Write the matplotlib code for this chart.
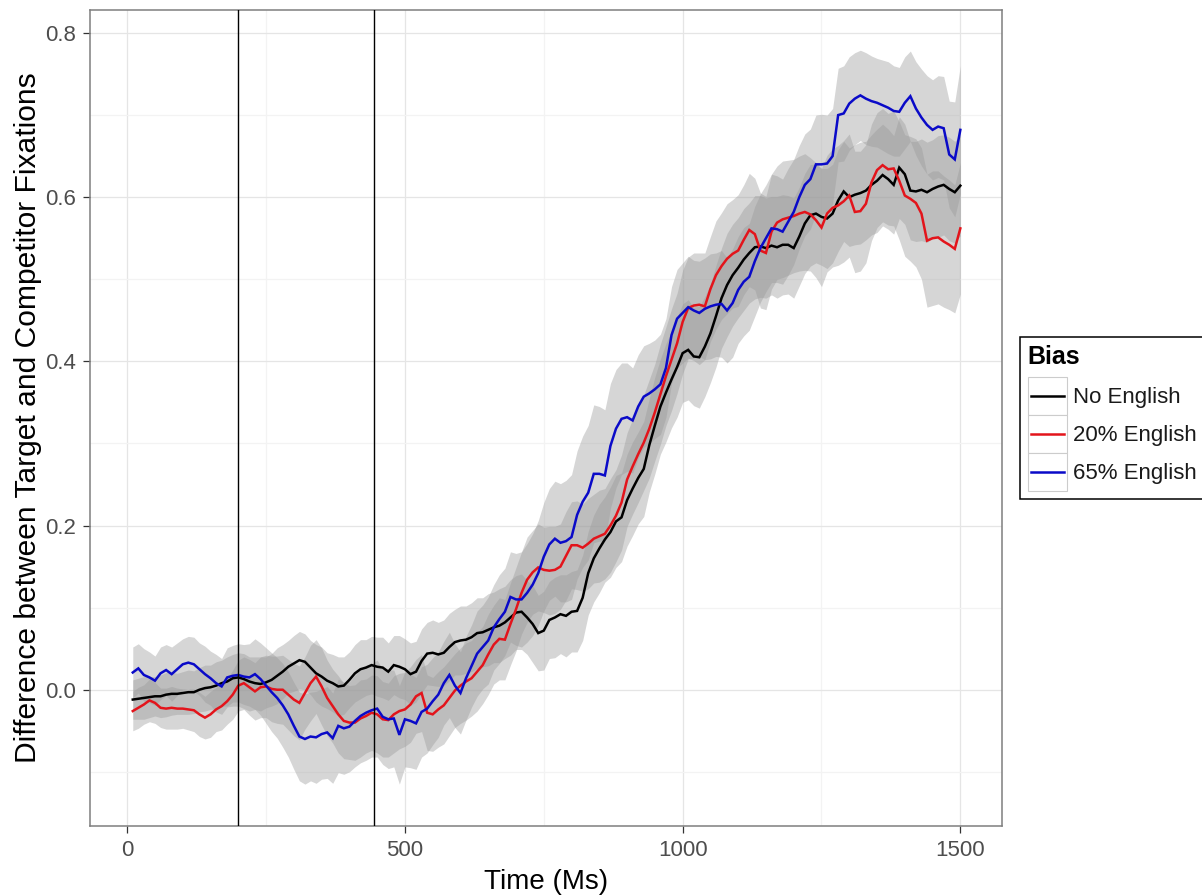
import matplotlib
matplotlib.use("Agg")
import matplotlib.pyplot as plt
from matplotlib.lines import Line2D
from matplotlib.patches import Rectangle
from matplotlib.legend_handler import HandlerBase
from matplotlib.ticker import MultipleLocator

plt.rcParams['font.family'] = ['Liberation Sans', 'DejaVu Sans']

# Sampling times (ms), one value every 10 ms
time_ms = list(range(10, 1510, 10))

# Mean difference between target and competitor fixations, per bias group
no_english = [
    -0.012, -0.011, -0.010, -0.009, -0.008, -0.008, -0.006, -0.005, -0.005, -0.004,
    -0.003, -0.003, 0.000, 0.002, 0.003, 0.005, 0.008, 0.010, 0.014, 0.015,
    0.013, 0.010, 0.008, 0.007, 0.009, 0.012, 0.017, 0.022, 0.028, 0.032,
    0.036, 0.034, 0.027, 0.020, 0.016, 0.011, 0.008, 0.004, 0.005, 0.012,
    0.020, 0.025, 0.027, 0.030, 0.028, 0.027, 0.022, 0.030, 0.028, 0.025,
    0.019, 0.022, 0.035, 0.044, 0.045, 0.043, 0.045, 0.052, 0.058, 0.060,
    0.061, 0.064, 0.069, 0.070, 0.073, 0.076, 0.078, 0.082, 0.088, 0.094,
    0.095, 0.088, 0.080, 0.069, 0.072, 0.085, 0.088, 0.092, 0.090, 0.095,
    0.096, 0.112, 0.142, 0.160, 0.172, 0.183, 0.192, 0.205, 0.210, 0.231,
    0.245, 0.258, 0.269, 0.298, 0.322, 0.345, 0.362, 0.378, 0.393, 0.410,
    0.414, 0.406, 0.405, 0.418, 0.434, 0.455, 0.477, 0.493, 0.505, 0.514,
    0.524, 0.532, 0.539, 0.540, 0.538, 0.541, 0.539, 0.542, 0.542, 0.538,
    0.552, 0.568, 0.578, 0.580, 0.576, 0.574, 0.580, 0.596, 0.607, 0.600,
    0.603, 0.605, 0.608, 0.615, 0.620, 0.627, 0.622, 0.615, 0.636, 0.628,
    0.608, 0.607, 0.609, 0.606, 0.610, 0.613, 0.615, 0.610, 0.606, 0.614,
]
english_20 = [
    -0.026, -0.022, -0.018, -0.013, -0.016, -0.022, -0.023, -0.022, -0.023, -0.023,
    -0.024, -0.025, -0.030, -0.034, -0.030, -0.024, -0.020, -0.014, -0.006, 0.005,
    0.008, 0.003, -0.002, 0.003, 0.004, 0.001, 0.000, 0.000, -0.006, -0.012,
    -0.016, -0.004, 0.008, 0.016, 0.004, -0.010, -0.020, -0.030, -0.038, -0.040,
    -0.040, -0.035, -0.032, -0.028, -0.030, -0.036, -0.037, -0.030, -0.026, -0.024,
    -0.018, -0.008, -0.004, -0.028, -0.030, -0.024, -0.019, -0.010, -0.001, 0.005,
    0.010, 0.014, 0.022, 0.030, 0.043, 0.055, 0.062, 0.061, 0.080, 0.098,
    0.118, 0.134, 0.143, 0.149, 0.146, 0.145, 0.146, 0.150, 0.163, 0.176,
    0.176, 0.173, 0.178, 0.184, 0.187, 0.190, 0.200, 0.212, 0.228, 0.256,
    0.272, 0.287, 0.301, 0.318, 0.338, 0.360, 0.382, 0.402, 0.422, 0.448,
    0.465, 0.468, 0.469, 0.467, 0.488, 0.505, 0.516, 0.525, 0.531, 0.535,
    0.548, 0.560, 0.555, 0.535, 0.532, 0.558, 0.569, 0.573, 0.575, 0.577,
    0.580, 0.582, 0.579, 0.572, 0.563, 0.580, 0.587, 0.590, 0.595, 0.602,
    0.582, 0.583, 0.592, 0.618, 0.633, 0.639, 0.634, 0.635, 0.620, 0.602,
    0.598, 0.593, 0.580, 0.547, 0.550, 0.551, 0.546, 0.542, 0.537, 0.562,
]
english_65 = [
    0.021, 0.026, 0.018, 0.015, 0.011, 0.020, 0.024, 0.019, 0.025, 0.031,
    0.033, 0.031, 0.025, 0.019, 0.014, 0.008, 0.004, 0.015, 0.017, 0.018,
    0.016, 0.015, 0.019, 0.013, 0.005, -0.003, -0.010, -0.019, -0.030, -0.044,
    -0.057, -0.060, -0.057, -0.058, -0.054, -0.052, -0.059, -0.044, -0.047, -0.045,
    -0.038, -0.032, -0.028, -0.025, -0.023, -0.033, -0.036, -0.035, -0.055, -0.036,
    -0.038, -0.041, -0.027, -0.023, -0.014, -0.006, 0.008, 0.018, 0.005, -0.004,
    0.014, 0.029, 0.044, 0.052, 0.060, 0.076, 0.086, 0.095, 0.113, 0.110,
    0.110, 0.118, 0.128, 0.142, 0.162, 0.177, 0.184, 0.179, 0.181, 0.186,
    0.213, 0.229, 0.240, 0.263, 0.263, 0.261, 0.297, 0.318, 0.330, 0.332,
    0.328, 0.345, 0.357, 0.361, 0.366, 0.372, 0.392, 0.432, 0.452, 0.459,
    0.466, 0.462, 0.459, 0.464, 0.467, 0.469, 0.470, 0.462, 0.471, 0.487,
    0.497, 0.503, 0.522, 0.538, 0.550, 0.562, 0.561, 0.558, 0.570, 0.582,
    0.600, 0.615, 0.622, 0.640, 0.640, 0.641, 0.650, 0.700, 0.702, 0.714,
    0.720, 0.724, 0.720, 0.717, 0.715, 0.712, 0.709, 0.705, 0.704, 0.715,
    0.723, 0.708, 0.697, 0.688, 0.682, 0.686, 0.684, 0.652, 0.646, 0.682,
]

# Standard errors used for the shaded bands
no_english_se = [
    0.024, 0.025, 0.026, 0.025, 0.024, 0.026, 0.027, 0.026, 0.025, 0.026,
    0.027, 0.026, 0.027, 0.028, 0.027, 0.029, 0.028, 0.030, 0.029, 0.030,
    0.031, 0.030, 0.032, 0.033, 0.031, 0.032, 0.034, 0.033, 0.032, 0.034,
    0.035, 0.034, 0.033, 0.035, 0.036, 0.034, 0.035, 0.036, 0.035, 0.034,
    0.035, 0.036, 0.034, 0.035, 0.036, 0.037, 0.035, 0.036, 0.038, 0.037,
    0.038, 0.037, 0.039, 0.038, 0.040, 0.039, 0.040, 0.041, 0.040, 0.042,
    0.041, 0.042, 0.043, 0.042, 0.044, 0.043, 0.045, 0.044, 0.046, 0.045,
    0.046, 0.045, 0.047, 0.046, 0.048, 0.047, 0.049, 0.048, 0.050, 0.049,
    0.050, 0.052, 0.051, 0.053, 0.054, 0.052, 0.055, 0.056, 0.054, 0.056,
    0.057, 0.056, 0.058, 0.057, 0.059, 0.058, 0.060, 0.059, 0.061, 0.060,
    0.061, 0.060, 0.062, 0.061, 0.060, 0.062, 0.061, 0.063, 0.062, 0.061,
    0.062, 0.061, 0.063, 0.062, 0.061, 0.060, 0.062, 0.061, 0.060, 0.061,
    0.060, 0.061, 0.062, 0.060, 0.059, 0.061, 0.060, 0.062, 0.061, 0.060,
    0.061, 0.062, 0.060, 0.061, 0.063, 0.062, 0.061, 0.060, 0.062, 0.061,
    0.060, 0.061, 0.062, 0.061, 0.060, 0.062, 0.061, 0.063, 0.062, 0.061,
]
english_20_se = [
    0.024, 0.025, 0.024, 0.026, 0.025, 0.024, 0.025, 0.026, 0.025, 0.024,
    0.025, 0.026, 0.027, 0.026, 0.028, 0.027, 0.029, 0.028, 0.030, 0.031,
    0.032, 0.034, 0.035, 0.037, 0.038, 0.040, 0.041, 0.042, 0.043, 0.044,
    0.045, 0.044, 0.046, 0.045, 0.047, 0.046, 0.045, 0.047, 0.046, 0.045,
    0.046, 0.047, 0.045, 0.046, 0.047, 0.046, 0.045, 0.047, 0.046, 0.045,
    0.046, 0.045, 0.047, 0.046, 0.045, 0.046, 0.047, 0.046, 0.045, 0.046,
    0.047, 0.046, 0.048, 0.047, 0.049, 0.048, 0.050, 0.049, 0.050, 0.051,
    0.050, 0.052, 0.051, 0.053, 0.052, 0.054, 0.053, 0.052, 0.054, 0.053,
    0.054, 0.053, 0.055, 0.054, 0.056, 0.055, 0.057, 0.056, 0.058, 0.057,
    0.058, 0.059, 0.058, 0.060, 0.059, 0.061, 0.060, 0.062, 0.061, 0.063,
    0.062, 0.064, 0.063, 0.065, 0.064, 0.066, 0.065, 0.067, 0.066, 0.068,
    0.067, 0.069, 0.068, 0.070, 0.069, 0.070, 0.069, 0.071, 0.070, 0.069,
    0.070, 0.071, 0.069, 0.070, 0.072, 0.071, 0.072, 0.073, 0.074, 0.075,
    0.074, 0.073, 0.072, 0.071, 0.070, 0.069, 0.068, 0.070, 0.072, 0.074,
    0.076, 0.078, 0.080, 0.081, 0.082, 0.081, 0.080, 0.079, 0.078, 0.080,
]
english_65_se = [
    0.031, 0.030, 0.032, 0.031, 0.030, 0.032, 0.031, 0.033, 0.032, 0.031,
    0.032, 0.033, 0.032, 0.034, 0.033, 0.035, 0.034, 0.036, 0.037, 0.038,
    0.039, 0.041, 0.043, 0.044, 0.046, 0.048, 0.049, 0.051, 0.052, 0.053,
    0.054, 0.055, 0.054, 0.056, 0.055, 0.056, 0.055, 0.057, 0.056, 0.055,
    0.056, 0.057, 0.058, 0.057, 0.059, 0.058, 0.060, 0.059, 0.060, 0.058,
    0.057, 0.056, 0.055, 0.054, 0.053, 0.052, 0.051, 0.052, 0.051, 0.050,
    0.051, 0.050, 0.052, 0.051, 0.053, 0.052, 0.054, 0.053, 0.055, 0.056,
    0.058, 0.060, 0.062, 0.064, 0.066, 0.068, 0.070, 0.072, 0.074, 0.076,
    0.078, 0.080, 0.082, 0.084, 0.082, 0.080, 0.076, 0.072, 0.068, 0.066,
    0.064, 0.063, 0.062, 0.061, 0.060, 0.061, 0.060, 0.059, 0.060, 0.061,
    0.062, 0.061, 0.063, 0.062, 0.064, 0.063, 0.065, 0.064, 0.066, 0.065,
    0.066, 0.065, 0.067, 0.066, 0.065, 0.066, 0.065, 0.064, 0.065, 0.064,
    0.063, 0.062, 0.061, 0.060, 0.061, 0.059, 0.058, 0.057, 0.058, 0.057,
    0.056, 0.055, 0.056, 0.055, 0.054, 0.055, 0.056, 0.055, 0.054, 0.056,
    0.055, 0.057, 0.059, 0.060, 0.061, 0.062, 0.063, 0.065, 0.070, 0.078,
]

group_labels = ["No English", "20% English", "65% English"]
group_colors = ["#000000", "#E3141B", "#0A0AC8"]
window_marks = [200, 445]
x_ticks = [0, 500, 1000, 1500]
y_ticks = [0.0, 0.2, 0.4, 0.6, 0.8]


class KeyBoxHandler(HandlerBase):
    """Legend key drawn as a framed white square with a line across it."""

    def create_artists(self, legend, orig_handle, xdescent, ydescent,
                       width, height, fontsize, trans):
        box = Rectangle((-xdescent, -ydescent), width, height,
                        facecolor="white", edgecolor="#CCCCCC", linewidth=0.8,
                        transform=trans)
        y = -ydescent + height / 2.0
        line = Line2D([-xdescent + 2, -xdescent + width - 2], [y, y],
                      color=orig_handle.get_color(),
                      linewidth=orig_handle.get_linewidth(), transform=trans)
        return [box, line]


fig = plt.figure(figsize=(12.02, 8.96), dpi=100)
ax = fig.add_axes([90 / 1202, 70 / 896, 912 / 1202, 816 / 896])

series = [(no_english, no_english_se), (english_20, english_20_se),
          (english_65, english_65_se)]
handles = []
for (vals, se), label, color in zip(series, group_labels, group_colors):
    lo = [v - s for v, s in zip(vals, se)]
    hi = [v + s for v, s in zip(vals, se)]
    ax.fill_between(time_ms, lo, hi, color="#999999", alpha=0.4, linewidth=0)
    h, = ax.plot(time_ms, vals, color=color, linewidth=1.8, label=label,
                 solid_joinstyle="miter")
    handles.append(h)

for xv in window_marks:
    ax.axvline(xv, color="black", linewidth=1.0, zorder=5)

ax.set_xlim(-67, 1575)
ax.set_ylim(-0.166, 0.828)
ax.set_xticks(x_ticks)
ax.set_yticks(y_ticks)
ax.set_yticklabels([f"{v:.1f}" for v in y_ticks])
ax.xaxis.set_minor_locator(MultipleLocator(250))
ax.yaxis.set_minor_locator(MultipleLocator(0.1))
ax.grid(which="major", color="#E5E5E5", linewidth=0.9, zorder=0)
ax.grid(which="minor", color="#F3F3F3", linewidth=0.9, zorder=0)
ax.set_axisbelow(True)
ax.tick_params(which="major", length=5, width=0.9, color="#333333",
               labelsize=16, labelcolor="#4D4D4D", pad=5)
ax.tick_params(which="minor", length=0)
for sp in ax.spines.values():
    sp.set_color("#7F7F7F")
    sp.set_linewidth(1.1)

ax.set_xlabel("Time (Ms)", fontsize=20, labelpad=6)
ax.set_ylabel("Difference between Target and Competitor Fixations",
              fontsize=21.6, labelpad=2)

leg = fig.legend(handles=handles, labels=group_labels, title="Bias",
                 loc="upper left", bbox_to_anchor=(1020 / 1202, 1 - 337 / 896),
                 bbox_transform=fig.transFigure, borderaxespad=0,
                 handler_map={Line2D: KeyBoxHandler()},
                 fontsize=16, title_fontproperties={"size": 18, "weight": "bold"},
                 frameon=True, fancybox=False, edgecolor="black",
                 framealpha=1, labelspacing=0.0, handlelength=1.75,
                 handleheight=2.25, handletextpad=0.3, borderpad=0.35,
                 alignment="left")
leg._legend_box.sep = 6  # gap between the title and the key rows
leg.get_frame().set_linewidth(1.1)
for txt in leg.get_texts():
    txt.set_color("#1A1A1A")

fig.savefig("out.png", dpi=100)
